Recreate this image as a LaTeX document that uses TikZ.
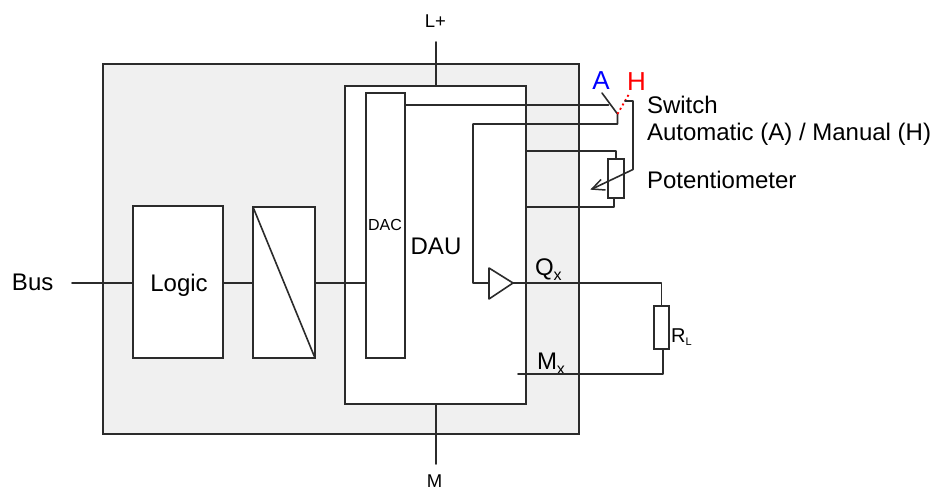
\documentclass[tikz,border=0pt]{standalone}
\usepackage{fontspec}
\setmainfont{Liberation Sans}
\usetikzlibrary{arrows.meta,calc}
\definecolor{panel}{HTML}{F0F0F0}
\definecolor{ink}{HTML}{2B2B2B}
\tikzset{
  wire/.style={draw=ink,line width=1.6pt,line cap=round,line join=round},
  blockbox/.style={draw=ink,line width=1.6pt,fill=white,inner sep=0pt,outer sep=0pt,minimum width=#1},
  lab/.style={inner sep=0pt,outer sep=0pt,text=black,font=\fontsize{24}{24}\selectfont},
  small/.style={inner sep=0pt,outer sep=0pt,text=black,font=\fontsize{18.5}{18.5}\selectfont},
}
\begin{document}
\begin{tikzpicture}[x=1pt,y=-1pt]
\useasboundingbox (0,0) rectangle (946,490);
% housing and blocks
\node[blockbox=476pt,minimum height=370pt,fill=panel] (outer) at (341,249) {};
\node[blockbox=181pt,minimum height=318pt] (dau) at (435.5,245) {};
\node[blockbox=39pt,minimum height=265pt] (dac) at (385.5,225.5) {};
\node[blockbox=90pt,minimum height=152pt] (logic) at (178,282) {};
\node[blockbox=62pt,minimum height=151pt] (conv) at (284,282.5) {};
\draw[wire] (conv.north west) -- (conv.south east);
% small components
\node[blockbox=15pt,minimum height=43pt] (rl) at (661.5,327.5) {};
\node[blockbox=16pt,minimum height=39pt] (pot) at (616,178.5) {};
\coordinate (triA) at (489,268);
\coordinate (triB) at (489,299);
\coordinate (triC) at (513,283);
\draw[wire,fill=white] (triA) -- (triC) -- (triB) -- cycle;
% labels
\node[lab,anchor=base west] (bus) at (12,290) {Bus};
\node[lab,anchor=base] (logict) at (179,291) {Logic};
\node[lab,anchor=base] (daut) at (436,254) {DAU};
\node[font=\fontsize{16}{16}\selectfont,inner sep=0pt] (dact) at (385,225) {DAC};
\node[small,anchor=base] (lp) at (435.5,27) {L+};
\node[small,anchor=base] (mm) at (434.5,487) {M};
\node[font=\fontsize{26}{26}\selectfont,text=blue,anchor=base,inner sep=0pt] (aa) at (601,89) {A};
\node[font=\fontsize{26}{26}\selectfont,text=red,anchor=base,inner sep=0pt] (hh) at (636.5,90) {H};
\node[lab,anchor=base west] (sw) at (647,113) {Switch};
\node[lab,anchor=base west] (am) at (647,140) {Automatic (A) / Manual (H)};
\node[lab,anchor=base west] (pt) at (647,188) {Potentiometer};
\node[lab,anchor=base west] (qx) at (535,275) {Q\raisebox{-5pt}{\fontsize{16}{16}\selectfont x}};
\node[lab,anchor=base west] (mx) at (537,369) {M\raisebox{-5pt}{\fontsize{16}{16}\selectfont x}};
\node[inner sep=0pt,anchor=base west,font=\fontsize{20}{20}\selectfont] (rlt) at (671,342) {R\raisebox{-3pt}{\fontsize{11}{11}\selectfont L}};
% free ends
\coordinate (busend) at (72,283);
\coordinate (lpend) at (436,42);
\coordinate (mend) at (436,464);
\coordinate (dacout) at (406,105);
\coordinate (swjoin) at (617.5,114);
\coordinate (cmdfoot) at (617.5,124);
\coordinate (fbx) at (473,124);
\coordinate (fby) at (473,283);
\coordinate (atip) at (602,93);
\coordinate (dacA) at (608.5,105);
\coordinate (htip) at (629,94);
\coordinate (hstub) at (625,101);
\coordinate (wip1) at (633,101);
\coordinate (wip2) at (633,169.5);
\coordinate (wip3) at (592,189);
\coordinate (pottop) at (526,151);
\coordinate (pott2) at (616,151);
\coordinate (potbot) at (526,207);
\coordinate (potb2) at (614,207);
\coordinate (potb3) at (614,198);
\coordinate (qcor) at (661.5,283);
\coordinate (mstart) at (518,374);
\coordinate (mcor) at (663,374);
\coordinate (rlb) at (663,349);
% connectors
\draw[wire] (busend) -- (busend -| logic.west);
\draw[wire] (busend -| logic.east) -- (busend -| conv.west);
\draw[wire] (busend -| conv.east) -- (busend -| dac.west);
\draw[wire] (lpend) -- (lpend |- dau.north);
\draw[wire] (mend |- dau.south) -- (mend);
\draw[wire] (dacout) -- (dacA);
\draw[wire] (atip) -- (swjoin) -- (cmdfoot) -- (fbx) -- (fby) -- (triA |- fby);
\draw[red,line width=1.8pt,dash pattern=on 2pt off 3pt] (swjoin) -- (htip);
\draw[wire] (hstub) -- (wip1) -- (wip2) -- (wip3);
\draw[draw=ink,line width=1.5pt] ($(wip3)+(9,-9.5)$) -- (wip3) -- ($(wip3)+(13.5,1)$);
\draw[wire] (pottop) -- (pott2) -- (pot.north);
\draw[wire] (potbot) -- (potb2) -- (potb3);
\draw[wire] (triC) -- (qcor) -- (rl.north);
\draw[wire] (mstart) -- (mcor) -- (rlb);
\end{tikzpicture}
\end{document}
